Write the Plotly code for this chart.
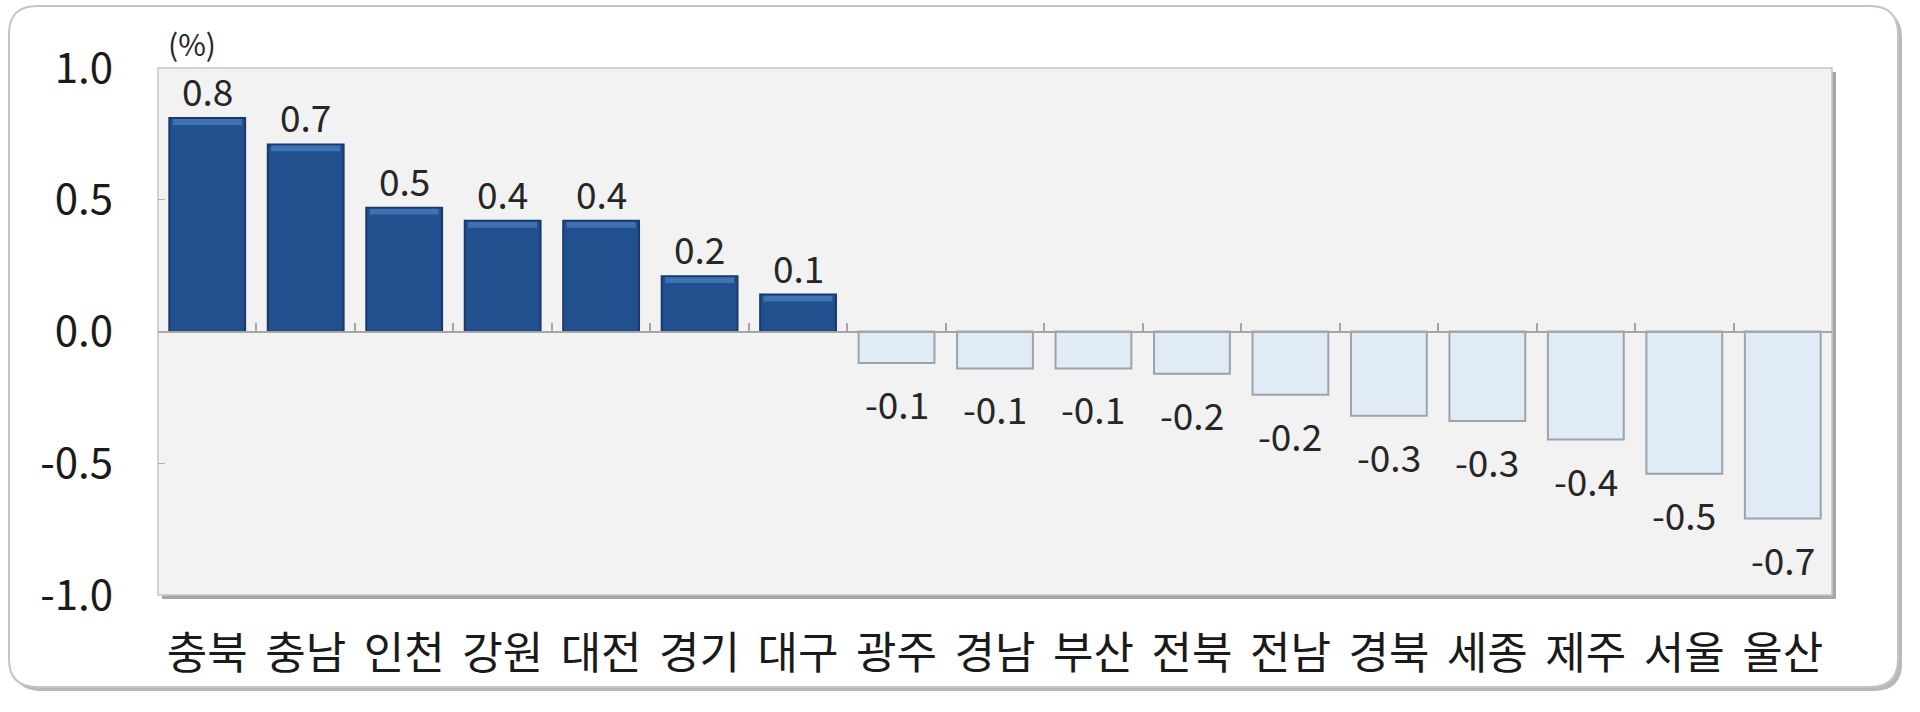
import plotly.graph_objects as go

# ---- data ----
regions = ["충북", "충남", "인천", "강원", "대전", "경기", "대구", "광주", "경남",
           "부산", "전북", "전남", "경북", "세종", "제주", "서울", "울산"]
values = [0.81, 0.71, 0.47, 0.42, 0.42, 0.21, 0.14, -0.12, -0.14,
          -0.14, -0.16, -0.24, -0.32, -0.34, -0.41, -0.54, -0.71]
value_labels = ["0.8", "0.7", "0.5", "0.4", "0.4", "0.2", "0.1", "-0.1", "-0.1",
                "-0.1", "-0.2", "-0.2", "-0.3", "-0.3", "-0.4", "-0.5", "-0.7"]
ytick_vals = [1.0, 0.5, 0.0, -0.5, -1.0]
ytick_text = ["1.0", "0.5", "0.0", "-0.5", "-1.0"]
unit_label = "(%)"

# ---- styles ----
W, H = 1920, 712
L, R, T, B = 158, 88, 68, 117
PW, PH = W - L - R, H - T - B
FONT = "Noto Sans CJK KR"
POS_FILL, POS_LINE, POS_HI = "#22508F", "#173A6B", "#3F71B5"
NEG_FILL, NEG_LINE = "#E1EBF6", "#9AA4AE"
HI_DEPTH = 0.022  # thickness of the bevel highlight, in axis units

def px(x):
    return (x - L) / PW

def py(y):
    return (H - B - y) / PH

fill = [POS_FILL if v >= 0 else NEG_FILL for v in values]
line = [POS_LINE if v >= 0 else NEG_LINE for v in values]

fig = go.Figure()
fig.add_trace(go.Bar(
    x=regions, y=values, marker=dict(color=fill, line=dict(color=line, width=2)),
    hoverinfo="x+y", showlegend=False, xaxis="x2"))
# bevel highlight on top of the positive bars
pos_regions = [r for r, v in zip(regions, values) if v >= 0]
pos_values = [v for v in values if v >= 0]
fig.add_trace(go.Bar(
    x=pos_regions, y=[HI_DEPTH] * len(pos_values),
    base=[v - HI_DEPTH - 0.004 for v in pos_values],
    marker=dict(color=POS_HI, line=dict(width=0)), width=0.70,
    hoverinfo="skip", showlegend=False, xaxis="x2"))
# invisible trace to drive the bottom category axis
fig.add_trace(go.Scatter(x=regions, y=[0] * len(regions), mode="lines",
                         line=dict(width=0), showlegend=False, hoverinfo="skip"))

annotations = []
for r, v, t in zip(regions, values, value_labels):
    if v >= 0:
        annotations.append(dict(x=r, y=v, xref="x2", yref="y", text=t, showarrow=False,
                                yanchor="bottom", yshift=-1,
                                font=dict(family=FONT, size=37, color="#262626")))
    else:
        annotations.append(dict(x=r, y=v, xref="x2", yref="y", text=t, showarrow=False,
                                yanchor="top", yshift=-11,
                                font=dict(family=FONT, size=37, color="#262626")))
annotations.append(dict(x=px(192), y=py(43), xref="paper", yref="paper", text=unit_label,
                        showarrow=False, xanchor="center", yanchor="middle",
                        font=dict(family=FONT, size=30, color="#262626")))

def rounded(x0, y0, x1, y1, r):
    X0, X1 = px(x0), px(x1)
    Y0, Y1 = py(y0), py(y1)
    rx, ry = r / PW, r / PH
    return (f"M {X0+rx},{Y0} L {X1-rx},{Y0} Q {X1},{Y0} {X1},{Y0-ry} "
            f"L {X1},{Y1+ry} Q {X1},{Y1} {X1-rx},{Y1} L {X0+rx},{Y1} "
            f"Q {X0},{Y1} {X0},{Y1+ry} L {X0},{Y0-ry} Q {X0},{Y0} {X0+rx},{Y0} Z")

shapes = [
    dict(type="path", xref="paper", yref="paper", path=rounded(13, 10, 1902, 691, 28),
         fillcolor="#B8B8B8", line=dict(width=0), layer="below"),
    dict(type="path", xref="paper", yref="paper", path=rounded(9, 6, 1898, 687, 28),
         fillcolor="white", line=dict(color="#C4C4C4", width=2), layer="below"),
    dict(type="line", xref="paper", yref="paper", x0=px(1834), x1=px(1834), y0=py(72), y1=py(597),
         line=dict(color="#A8A8A8", width=4), layer="below"),
    dict(type="line", xref="paper", yref="paper", x0=px(162), x1=px(1836), y0=py(597), y1=py(597),
         line=dict(color="#A8A8A8", width=4), layer="below"),
    dict(type="rect", xref="paper", yref="paper", x0=0, x1=1, y0=0, y1=1,
         fillcolor="#F2F2F2", line=dict(color="#C4C4C4", width=1.5), layer="below"),
]

n = len(regions)
fig.update_layout(
    width=W, height=H, margin=dict(l=L, r=R, t=T, b=B, autoexpand=False),
    paper_bgcolor="white", plot_bgcolor="rgba(0,0,0,0)",
    bargap=0.23, barmode="overlay", showlegend=False,
    font=dict(family=FONT, color="#1A1A1A"),
    annotations=annotations, shapes=shapes,
    xaxis=dict(type="category", categoryorder="array", categoryarray=regions,
               range=[-0.5, n - 0.5], automargin=False,
               showline=False, showgrid=False, zeroline=False, ticks="",
               tickfont=dict(family=FONT, size=44, color="#1A1A1A"),
               ticklabelstandoff=29, fixedrange=True),
    xaxis2=dict(type="category", categoryorder="array", categoryarray=regions,
                range=[-0.5, n - 0.5], automargin=False,
                overlaying="x", anchor="free", position=0.5, side="bottom",
                showline=True, linecolor="#A6A6A6", linewidth=2,
                ticks="inside", tickson="boundaries", ticklen=8, tickcolor="#A6A6A6",
                tickwidth=1.5, showticklabels=False, showgrid=False, zeroline=False,
                fixedrange=True),
    yaxis=dict(range=[-1, 1], tickvals=ytick_vals, ticktext=ytick_text, automargin=False,
               showgrid=False, zeroline=False, showline=False,
               ticks="inside", ticklen=7, tickcolor="#B0B0B0",
               tickfont=dict(family=FONT, size=42, color="#1A1A1A"),
               ticklabelstandoff=44, fixedrange=True),
)

fig.write_html("out.html", config={"displayModeBar": False},
               post_script="document.body.style.margin='0px';")
